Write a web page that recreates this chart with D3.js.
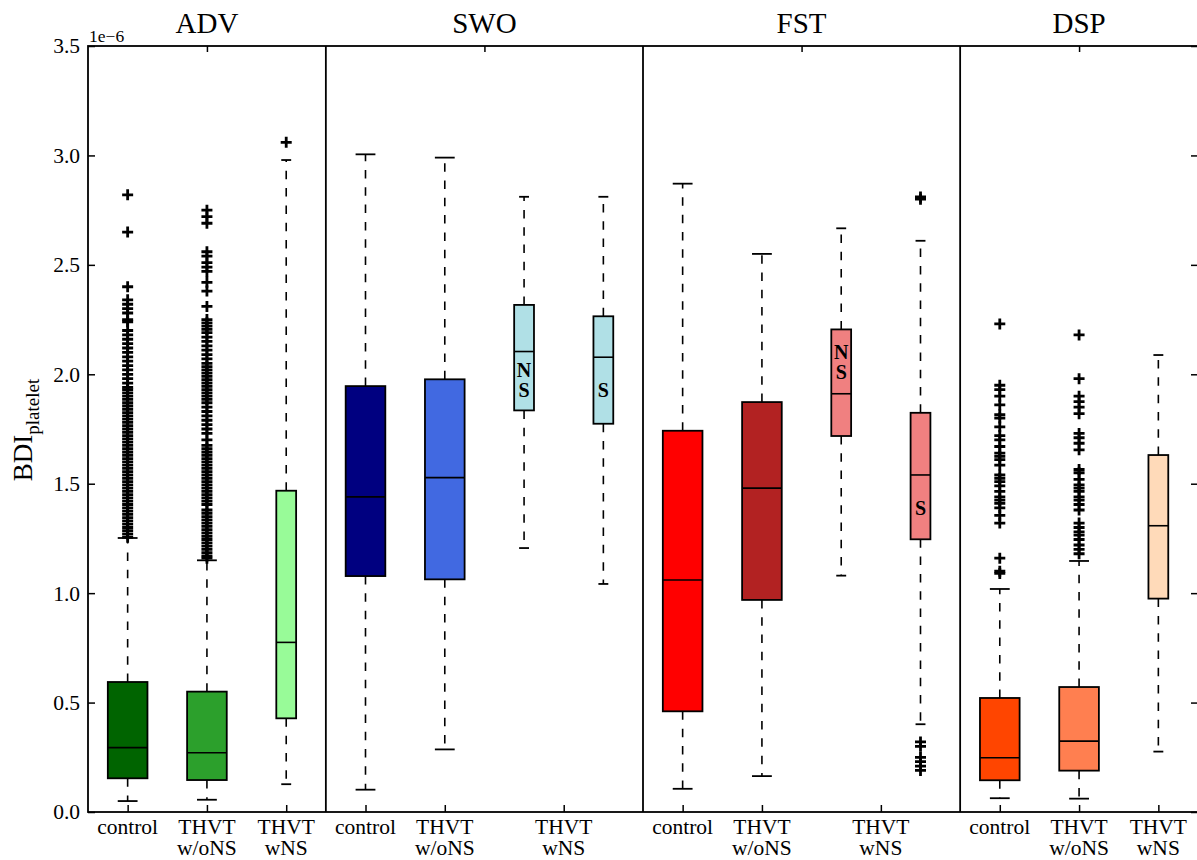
<!DOCTYPE html>
<meta charset="utf-8">
<style>
    body { margin: 0; background: #fff; }
    text { font-family: "Liberation Serif", "DejaVu Serif", serif; fill: #000; }
    .tick text { font-size: 21.5px; font-family: "Liberation Serif", serif; }
    .tick line { stroke: #000; stroke-width: 1.5; }
    .domain { display: none; }
    .title { font-size: 29px; text-anchor: middle; }
    .xlab { font-size: 21.5px; text-anchor: middle; }
    .box rect { stroke: #000; stroke-width: 1.8; }
    .box .med { stroke: #000; stroke-width: 1.6; }
    .box .whisker { stroke: #000; stroke-width: 1.6; stroke-dasharray: 8.5, 8.8; }
    .box .cap { stroke: #000; stroke-width: 1.8; }
    .flier { stroke: #000; stroke-width: 2.8; fill: none; }
    .note { font-size: 20px; font-weight: bold; text-anchor: middle; }
    .frame { fill: none; stroke: #000; stroke-width: 1.8; }
</style>
<body>
<script src="https://d3js.org/d3.v7.min.js"></script>
<script>
// one entry per box, left to right
var panels = ["ADV", "SWO", "FST", "DSP"];
var boxPanel = [0, 0, 0, 1, 1, 1, 1, 2, 2, 2, 2, 3, 3, 3];
var boxGroup = ["control", "w/oNS", "wNS",
                "control", "w/oNS", "wNS", "wNS",
                "control", "w/oNS", "wNS", "wNS",
                "control", "w/oNS", "wNS"];
var boxColors = ["#006400", "#2ca02c", "#98fb98",
                 "#000080", "#4169e1", "#b0e0e6", "#b0e0e6",
                 "#ff0000", "#b22222", "#f08080", "#f08080",
                 "#ff4500", "#ff7f50", "#ffdab9"];
var whisLow  = [0.050, 0.056, 0.127, 0.102, 0.286, 1.206, 1.042, 0.106, 0.164, 1.080, 0.401, 0.063, 0.061, 0.276];
var q1       = [0.154, 0.146, 0.428, 1.078, 1.063, 1.835, 1.774, 0.460, 0.969, 1.718, 1.246, 0.145, 0.189, 0.975];
var median   = [0.294, 0.271, 0.775, 1.440, 1.528, 2.104, 2.078, 1.060, 1.480, 1.911, 1.540, 0.248, 0.324, 1.308];
var q3       = [0.594, 0.550, 1.468, 1.946, 1.977, 2.317, 2.265, 1.742, 1.873, 2.205, 1.824, 0.521, 0.571, 1.631];
var whisHigh = [1.252, 1.150, 2.979, 3.005, 2.990, 2.811, 2.811, 2.871, 2.550, 2.667, 2.610, 1.019, 1.147, 2.088];

var fliersAdvControl = [2.82, 2.65, 2.40, 2.34, 2.32, 2.30, 2.28, 2.25, 2.24, 2.20, 2.18, 2.16, 2.14, 2.12,
    2.10, 2.08, 2.06, 2.04, 2.02, 2.00, 1.98, 1.96, 1.94, 1.93, 1.915, 1.90, 1.885, 1.87, 1.855, 1.84,
    1.825, 1.81, 1.795, 1.78, 1.765, 1.75, 1.735, 1.72, 1.705, 1.69, 1.675, 1.66, 1.645, 1.63, 1.615,
    1.60, 1.585, 1.57, 1.555, 1.54, 1.525, 1.51, 1.495, 1.48, 1.465, 1.45, 1.435, 1.42, 1.405, 1.39,
    1.375, 1.36, 1.345, 1.33, 1.315, 1.30, 1.285, 1.27, 1.255];
var fliersAdvWoNS = [2.75, 2.72, 2.69, 2.56, 2.54, 2.51, 2.49, 2.47, 2.42, 2.38, 2.31, 2.25, 2.235, 2.22,
    2.205, 2.19, 2.17, 2.15, 2.13, 2.11, 2.09, 2.07, 2.05, 2.035, 2.02, 2.005, 1.99, 1.975, 1.96, 1.945,
    1.93, 1.915, 1.90, 1.885, 1.87, 1.85, 1.83, 1.81, 1.79, 1.77, 1.75, 1.73, 1.70, 1.675, 1.66, 1.645,
    1.63, 1.615, 1.60, 1.585, 1.57, 1.555, 1.54, 1.525, 1.51, 1.495, 1.48, 1.465, 1.45, 1.435, 1.42,
    1.405, 1.38, 1.365, 1.35, 1.335, 1.32, 1.305, 1.29, 1.275, 1.26, 1.245, 1.23, 1.215, 1.20, 1.185,
    1.17, 1.16];
var fliersAdvWNS = [3.06];
var fliersFstS = [2.80, 2.81, 0.32, 0.30, 0.25, 0.23, 0.21, 0.19];
var fliersDspControl = [2.23, 1.95, 1.93, 1.90, 1.86, 1.815, 1.80, 1.76, 1.72, 1.70, 1.67, 1.64, 1.625,
    1.61, 1.585, 1.54, 1.525, 1.51, 1.49, 1.465, 1.44, 1.425, 1.41, 1.39, 1.355, 1.32, 1.16, 1.10, 1.09];
var fliersDspWoNS = [2.18, 1.98, 1.90, 1.875, 1.85, 1.82, 1.73, 1.71, 1.685, 1.655, 1.565, 1.55, 1.52,
    1.495, 1.48, 1.465, 1.44, 1.425, 1.405, 1.38, 1.32, 1.30, 1.28, 1.265, 1.245, 1.22, 1.20, 1.18];
var fliers = [fliersAdvControl, fliersAdvWoNS, fliersAdvWNS, [], [], [], [],
              [], [], [], fliersFstS, fliersDspControl, fliersDspWoNS, []];

// significance notes written inside boxes, and the value they are centred on
var notes  = ["", "", "", "", "", "NS", "S", "", "", "NS", "S", "", "", ""];
var noteAt = [0, 0, 0, 0, 0, 1.975, 1.93, 0, 0, 2.055, 1.39, 0, 0, 0];

var tickLabels = [["control", "THVT\nw/oNS", "THVT\nwNS"],
                  ["control", "THVT\nw/oNS", "THVT\nwNS"],
                  ["control", "THVT\nw/oNS", "THVT\nwNS"],
                  ["control", "THVT\nw/oNS", "THVT\nwNS"]];
var tickSlots = [[0, 1, 2], [3, 4, 5.5], [7, 8, 9.5], [11, 12, 13]];
var yTicks = [0, 0.5, 1.0, 1.5, 2.0, 2.5, 3.0, 3.5];

var W = 1197, H = 860;
var padLeft = 88, padRight = 1198, padTop = 46, padBottom = 812;

var svg = d3.select("body").append("svg").attr("width", W).attr("height", H);

var x = d3.scaleLinear().domain([0, boxPanel.length]).range([padLeft, padRight]);
var y = d3.scaleLinear().domain([0, 3.5]).range([padBottom, padTop]);
var unit = x(1) - x(0);

// panel extents (in box slots)
var panelStart = panels.map(function(p, i) { return boxPanel.indexOf(i); });
var panelEnd = panels.map(function(p, i) { return boxPanel.lastIndexOf(i) + 1; });

// boxes
var boxes = svg.selectAll(".box").data(boxPanel).enter().append("g")
    .attr("class", "box")
    .attr("transform", function(d, i) { return "translate(" + x(i + 0.5) + ",0)"; });

boxes.each(function(d, i) {
    var g = d3.select(this);
    var half = (boxGroup[i] == "wNS" ? 0.125 : 0.25) * unit;
    var capHalf = half / 2;
    g.append("line").attr("class", "whisker")
        .attr("y1", y(q3[i])).attr("y2", y(whisHigh[i]));
    g.append("line").attr("class", "whisker")
        .attr("y1", y(q1[i])).attr("y2", y(whisLow[i]));
    g.append("line").attr("class", "cap")
        .attr("x1", -capHalf).attr("x2", capHalf)
        .attr("y1", y(whisHigh[i])).attr("y2", y(whisHigh[i]));
    g.append("line").attr("class", "cap")
        .attr("x1", -capHalf).attr("x2", capHalf)
        .attr("y1", y(whisLow[i])).attr("y2", y(whisLow[i]));
    g.append("rect")
        .attr("x", -half).attr("width", 2 * half)
        .attr("y", y(q3[i])).attr("height", y(q1[i]) - y(q3[i]))
        .attr("fill", boxColors[i]);
    g.append("line").attr("class", "med")
        .attr("x1", -half).attr("x2", half)
        .attr("y1", y(median[i])).attr("y2", y(median[i]));

    g.selectAll(".flier").data(fliers[i]).enter().append("path")
        .attr("class", "flier")
        .attr("d", function(v) { var c = y(v); return "M-5.5," + c + "H5.5M0," + (c - 5.5) + "V" + (c + 5.5); });

    if (notes[i]) {
        var letters = notes[i].split("");
        var t = g.append("text").attr("class", "note")
            .attr("y", y(noteAt[i]) - (letters.length - 1) * 10 + 7);
        letters.forEach(function(ch, k) {
            t.append("tspan").attr("x", 0).attr("dy", k == 0 ? 0 : 20).text(ch);
        });
    }
});

// frame and panel dividers
svg.append("rect").attr("class", "frame")
    .attr("x", padLeft).attr("y", padTop).attr("width", padRight - padLeft).attr("height", padBottom - padTop);
svg.selectAll(".divider").data(panelStart.slice(1)).enter().append("line")
    .attr("class", "frame")
    .attr("x1", function(d) { return x(d); }).attr("x2", function(d) { return x(d); })
    .attr("y1", padTop).attr("y2", padBottom);

// y axes
svg.append("g").attr("transform", "translate(" + padLeft + ",0)")
    .call(d3.axisLeft(y).tickValues(yTicks).tickFormat(d3.format(".1f"))
        .tickSizeInner(-7).tickSizeOuter(0).tickPadding(8));
svg.append("g").attr("transform", "translate(" + padRight + ",0)")
    .call(d3.axisRight(y).tickValues(yTicks).tickFormat("")
        .tickSizeInner(-7).tickSizeOuter(0));

// x axes: ticks at the labels on the bottom, one tick per panel on top
var allSlots = [].concat.apply([], tickSlots);
svg.append("g").attr("transform", "translate(0," + padBottom + ")")
    .call(d3.axisBottom(x).tickValues(allSlots.map(function(s) { return s + 0.5; }))
        .tickFormat("").tickSizeInner(-7).tickSizeOuter(0));
svg.append("g").attr("transform", "translate(0," + padTop + ")")
    .call(d3.axisTop(x).tickValues(panels.map(function(p, i) { return (panelStart[i] + panelEnd[i]) / 2; }))
        .tickFormat("").tickSizeInner(-6).tickSizeOuter(0));

tickLabels.forEach(function(labels, p) {
    labels.forEach(function(lab, k) {
        var t = svg.append("text").attr("class", "xlab")
            .attr("y", 834);
        lab.split("\n").forEach(function(line, j) {
            t.append("tspan").attr("x", x(tickSlots[p][k] + 0.5)).attr("dy", j == 0 ? 0 : 21).text(line);
        });
    });
});

// panel titles
svg.selectAll(".title").data(panels).enter().append("text")
    .attr("class", "title")
    .attr("x", function(d, i) { return x((panelStart[i] + panelEnd[i]) / 2); })
    .attr("y", 33)
    .text(function(d) { return d; });

// offset text and y label
svg.append("text").attr("x", padLeft + 1).attr("y", 42).style("font-size", "17.5px").text("1e\u22126");

var ylab = svg.append("text")
    .attr("transform", "translate(32,430) rotate(-90)")
    .attr("text-anchor", "middle")
    .style("font-size", "27px");
ylab.append("tspan").text("BDI");
ylab.append("tspan").attr("dy", 7).style("font-size", "19px").text("platelet");
</script>
</body>
